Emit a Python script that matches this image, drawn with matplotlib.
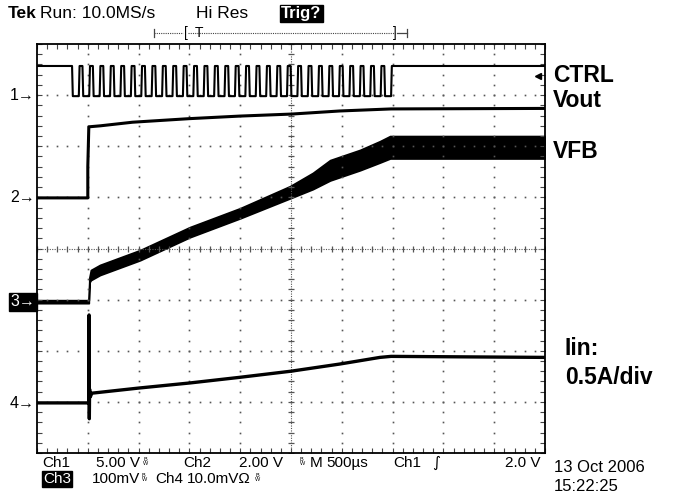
"""Tek scope capture: CTRL / Vout / VFB / Iin start-up waveforms."""

import numpy as np
import matplotlib
matplotlib.use("Agg")
import matplotlib.pyplot as plt

plt.rcParams["font.family"] = ["Liberation Sans", "DejaVu Sans"]

# horizontal: divisions (500 µs/div), vertical: divisions from bottom (8 div)
CTRL_HIGH = 7.57
CTRL_LOW = 6.98
CTRL_BURST_START = 0.69
CTRL_BURST_END = 6.97
CTRL_PULSES = 31
CTRL_LOW_FRACTION = 0.65

VOUT_T = [0.0, 1.0, 1.0, 1.02, 1.25, 1.88, 3.0, 3.99, 5.02, 5.96, 6.97, 10.0]
VOUT_V = [4.99, 4.99, 5.60, 6.38, 6.40, 6.47, 6.54, 6.59, 6.63, 6.69, 6.73, 6.74]

VFB_T = [0.0, 1.02, 1.03, 1.06, 1.24, 2.03, 3.01, 4.0, 4.98, 5.43, 5.77, 6.36, 6.75, 6.95, 10.0]
VFB_MID = [2.96, 2.96, 3.38, 3.48, 3.58, 3.87, 4.32, 4.69, 5.10, 5.32, 5.53, 5.73, 5.89, 5.98, 5.98]
VFB_HALF = [0.03, 0.03, 0.05, 0.10, 0.10, 0.10, 0.10, 0.10, 0.12, 0.16, 0.20, 0.20, 0.21, 0.22, 0.22]

IIN_T = [0.0, 1.02, 1.025, 1.03, 1.035, 1.05, 1.08, 2.0, 3.01, 3.99, 5.0, 5.96, 6.75, 6.97, 10.0]
IIN_I = [0.98, 0.98, 2.70, 0.67, 1.25, 1.10, 1.17, 1.27, 1.37, 1.48, 1.60, 1.74, 1.87, 1.89, 1.87]

TRACE_LABELS = ["CTRL", "Vout", "VFB", "Iin:", "0.5A/div"]


def ctrl_wave():
    """PWM burst: falling edge each period, low for CTRL_LOW_FRACTION of it."""
    period = (CTRL_BURST_END - CTRL_BURST_START) / (CTRL_PULSES - 1 + CTRL_LOW_FRACTION)
    edge = 0.015
    t = [0.0, CTRL_BURST_START]
    v = [CTRL_HIGH, CTRL_HIGH]
    for k in range(CTRL_PULSES):
        ts = CTRL_BURST_START + k * period
        tr = ts + CTRL_LOW_FRACTION * period
        t += [ts + edge, tr, tr + edge]
        v += [CTRL_LOW, CTRL_LOW, CTRL_HIGH]
        if k < CTRL_PULSES - 1:
            t.append(ts + period)
            v.append(CTRL_HIGH)
    t.append(10.0)
    v.append(CTRL_HIGH)
    return t, v


fig = plt.figure(figsize=(6.76, 4.96), dpi=100)
ax = fig.add_axes([37 / 676, 1 - 453 / 496, 508 / 676, 409 / 496])
ax.set_xlim(0, 10)
ax.set_ylim(0, 8)

# graticule
minor_x = np.arange(0, 10.001, 0.2)
minor_y = np.arange(0, 8.001, 0.2)
for i in range(1, 10):
    if i != 5:
        ax.plot([i] * len(minor_y), minor_y, ls="none", marker="s", ms=1.2, color="#555555", mew=0)
for j in range(1, 8):
    if j != 4:
        ax.plot(minor_x, [j] * len(minor_x), ls="none", marker="s", ms=1.2, color="#555555", mew=0)
ax.axvline(5, ls=(0, (1, 1.2)), lw=0.8, color="#555555")
ax.axhline(4, ls=(0, (1, 1.2)), lw=0.8, color="#555555")
ax.plot([5] * len(minor_y), minor_y, ls="none", marker="_", ms=5, mew=0.9, color="#555555")
ax.plot(minor_x, [4] * len(minor_x), ls="none", marker="|", ms=5, mew=0.9, color="#555555")

ax.set_xticks(minor_x)
ax.set_yticks(minor_y)
ax.tick_params(direction="in", length=3.5, width=0.8, color="#444444",
               top=True, right=True, labelbottom=False, labelleft=False)
for sp in ax.spines.values():
    sp.set_linewidth(1.3)
    sp.set_color("black")

# traces
t, v = ctrl_wave()
ax.plot(t, v, color="black", lw=1.5)
ax.plot(VOUT_T, VOUT_V, color="black", lw=2.2)
lo = np.array(VFB_MID) - np.array(VFB_HALF)
hi = np.array(VFB_MID) + np.array(VFB_HALF)
ax.fill_between(VFB_T, lo, hi, color="black", lw=1.2, edgecolor="black")
ax.plot(IIN_T, IIN_I, color="black", lw=2.4)

# overlay in pixel coordinates for all screen text
ov = fig.add_axes([0, 0, 1, 1])
ov.set_xlim(0, 676)
ov.set_ylim(496, 0)
ov.axis("off")
ov.patch.set_alpha(0)

ov.text(8, 18, "Tek", fontsize=12.5, fontweight="bold")
ov.text(40, 18, "Run: 10.0MS/s", fontsize=12.5)
ov.text(196, 18, "Hi Res", fontsize=12.5)
ov.text(281, 18, "Trig?", fontsize=12, fontweight="bold", color="white",
        bbox=dict(boxstyle="square,pad=0.08", fc="black", ec="black"))

# trigger position bar
ov.plot([154, 154], [29, 37], color="#444444", lw=0.9)
ov.plot([154, 183], [33, 33], color="#444444", lw=0.8, ls=(0, (1, 1)))
ov.plot([188, 395], [33, 33], color="#444444", lw=0.8, ls=(0, (1, 1)))
ov.plot([397, 407], [33, 33], color="#444444", lw=0.9)
ov.plot([407, 407], [29, 37], color="#444444", lw=0.9)
ov.text(186, 33, "[", fontsize=10, ha="center", va="center")
ov.text(199, 33, "T", fontsize=10, ha="center", va="center")
ov.text(395, 33, "]", fontsize=10, ha="center", va="center")

# channel ground markers
ov.text(35, 95, "1→", fontsize=11.5, ha="right", va="center")
ov.text(35, 198, "2→", fontsize=11.5, ha="right", va="center")
ov.text(35, 302, "3→", fontsize=11.5, ha="right", va="center", color="white",
        bbox=dict(boxstyle="square,pad=0.1", fc="black", ec="black"))
ov.text(35, 403, "4→", fontsize=11.5, ha="right", va="center")

# trigger level marker
ov.plot([538], [76], marker="<", ms=5, color="black")

# trace names
ov.text(553, 82, TRACE_LABELS[0], fontsize=16.5, fontweight="bold")
ov.text(553, 107, TRACE_LABELS[1], fontsize=16.5, fontweight="bold")
ov.text(553, 158, TRACE_LABELS[2], fontsize=16.5, fontweight="bold")
ov.text(565, 355, TRACE_LABELS[3], fontsize=16.5, fontweight="bold")
ov.text(565, 384, TRACE_LABELS[4], fontsize=16.5, fontweight="bold")

# scale readout
r1, r2 = 467, 483
fs = 11
ov.text(42, r1, "Ch1", fontsize=fs)
ov.text(96, r1, "5.00 V", fontsize=fs)
ov.text(143, r1 - 2, "B\nW", fontsize=4, linespacing=0.8)
ov.text(183, r1, "Ch2", fontsize=fs)
ov.text(239, r1, "2.00 V", fontsize=fs)
ov.text(300, r1 - 2, "B\nW", fontsize=4, linespacing=0.8)
ov.text(310, r1, "M", fontsize=fs)
ov.text(326, r1, "500µs", fontsize=fs)
ov.text(393, r1, "Ch1", fontsize=fs)
ov.text(432, r1, "∫", fontsize=fs, family="DejaVu Sans")
ov.text(505, r1, "2.0 V", fontsize=fs)
ov.text(43, r2, "Ch3", fontsize=fs, color="white",
        bbox=dict(boxstyle="square,pad=0.05", fc="black", ec="black"))
ov.text(92, r2, "100mV", fontsize=fs)
ov.text(142, r2 - 2, "B\nW", fontsize=4, linespacing=0.8)
ov.text(155, r2, "Ch4", fontsize=fs)
ov.text(187, r2, "10.0mVΩ", fontsize=fs)
ov.text(255, r2 - 2, "B\nW", fontsize=4, linespacing=0.8)
ov.text(554, 472, "13 Oct 2006", fontsize=12)
ov.text(554, 491, "15:22:25", fontsize=12)

fig.savefig("out.png", dpi=100)
